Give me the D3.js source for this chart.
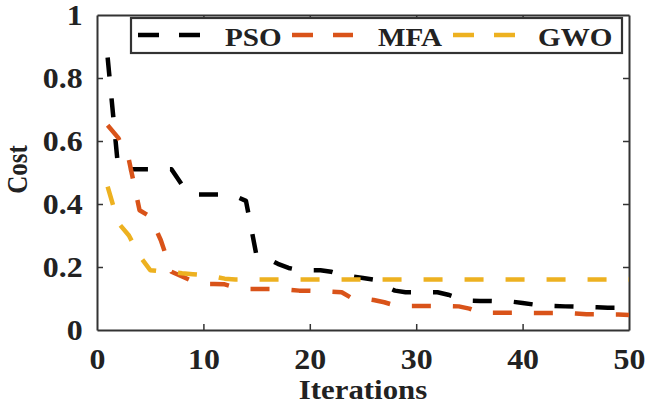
<!DOCTYPE html>
<html>
<head>
<meta charset="utf-8">
<script src="https://cdn.jsdelivr.net/npm/d3@7"></script>
<style>
  html, body { margin: 0; padding: 0; background: #fff; }
  svg { display: block; }
</style>
</head>
<body>
<svg id="chart" width="646" height="407"></svg>
<script>
// Convergence curves of three optimisers (cost vs. iteration)
const iterations = [1,2,3,4,5,6,7,8,9,10,11,12,13,14,15,16,17,18,19,20,
  21,22,23,24,25,26,27,28,29,30,31,32,33,34,35,36,37,38,39,40,
  41,42,43,44,45,46,47,48,49,50];

const pso = [0.865,0.51,0.51,0.51,0.51,0.51,0.51,0.46,0.43,0.43,
  0.43,0.43,0.425,0.41,0.235,0.228,0.21,0.197,0.19,0.19,
  0.19,0.185,0.175,0.17,0.165,0.16,0.14,0.125,0.12,0.12,
  0.12,0.12,0.112,0.10,0.093,0.092,0.092,0.091,0.09,0.086,
  0.081,0.077,0.076,0.075,0.074,0.073,0.072,0.071,0.071,0.07];

const mfa = [0.65,0.61,0.54,0.38,0.36,0.285,0.185,0.17,0.155,0.146,
  0.146,0.145,0.135,0.13,0.13,0.13,0.13,0.128,0.125,0.125,
  0.124,0.122,0.12,0.10,0.10,0.095,0.088,0.078,0.076,0.076,
  0.076,0.076,0.076,0.075,0.068,0.055,0.055,0.055,0.055,0.055,
  0.054,0.054,0.054,0.054,0.052,0.05,0.05,0.049,0.049,0.048];

const gwo = [0.455,0.34,0.30,0.235,0.19,0.186,0.184,0.18,0.177,0.174,
  0.17,0.163,0.16,0.16,0.16,0.16,0.16,0.16,0.16,0.16,
  0.16,0.16,0.16,0.16,0.16,0.16,0.16,0.16,0.16,0.16,
  0.16,0.16,0.16,0.16,0.16,0.16,0.16,0.16,0.16,0.16,
  0.16,0.16,0.16,0.16,0.16,0.16,0.16,0.16,0.16,0.16];

const seriesNames = ["PSO", "MFA", "GWO"];
const seriesColors = ["#000000", "#D95319", "#EDB120"];
const xTicks = [0, 10, 20, 30, 40, 50];
const yTicks = [0, 0.2, 0.4, 0.6, 0.8, 1];

const FONT = "Liberation Serif, Times New Roman, serif";
const svg = d3.select("#chart");
const W = 646, H = 407;
const m = { left: 97, right: W - 629, top: 15, bottom: H - 330 };

svg.append("rect").attr("width", W).attr("height", H).attr("fill", "#fff");

const x = d3.scaleLinear().domain([0, 50]).range([m.left, W - m.right]);
const y = d3.scaleLinear().domain([0, 1]).range([H - m.bottom, m.top]);

const axisColor = "#333";
const stretch = 1.1;

// Bottom axis with inward ticks
const gx = svg.append("g")
  .attr("transform", `translate(0,${H - m.bottom})`)
  .call(d3.axisBottom(x).tickValues(xTicks).tickFormat(d3.format("d"))
    .tickSizeInner(-6).tickSizeOuter(0).tickPadding(18));
// Left axis with inward ticks
const gy = svg.append("g")
  .attr("transform", `translate(${m.left},0)`)
  .call(d3.axisLeft(y).tickValues(yTicks).tickFormat(d => d === 0 || d === 1 ? d3.format("d")(d) : d3.format(".1f")(d))
    .tickSizeInner(-6).tickSizeOuter(0).tickPadding(13));
// Mirrored top and right axes (ticks only)
const gt = svg.append("g")
  .attr("transform", `translate(0,${m.top})`)
  .call(d3.axisTop(x).tickValues(xTicks).tickFormat("").tickSizeInner(-6).tickSizeOuter(0));
const gr = svg.append("g")
  .attr("transform", `translate(${W - m.right},0)`)
  .call(d3.axisRight(y).tickValues(yTicks).tickFormat("").tickSizeInner(-6).tickSizeOuter(0));

[gx, gy, gt, gr].forEach(g => {
  g.attr("font-family", FONT).attr("font-weight", "bold");
  g.select(".domain").attr("stroke", axisColor).attr("stroke-width", 2);
  g.selectAll(".tick line").attr("stroke", axisColor).attr("stroke-width", 1.5);
  g.selectAll(".tick text")
    .attr("font-family", FONT)
    .attr("font-weight", "bold")
    .attr("font-size", 29)
    .attr("fill", "#222")
    .attr("transform", `scale(${stretch},1)`);
});
// first/last tick lines sit on the frame; hide duplicates at the corners
gx.selectAll(".tick line").filter(d => d === 0 || d === 50).attr("opacity", 0);
gt.selectAll(".tick line").filter(d => d === 0 || d === 50).attr("opacity", 0);
gy.selectAll(".tick line").filter(d => d === 0 || d === 1).attr("opacity", 0);
gr.selectAll(".tick line").filter(d => d === 0 || d === 1).attr("opacity", 0);

// Curves
const line = d3.line()
  .x((d, i) => x(iterations[i]))
  .y(d => y(d));

[pso, mfa, gwo].forEach((vals, k) => {
  svg.append("path")
    .datum(vals)
    .attr("d", line)
    .attr("fill", "none")
    .attr("stroke", seriesColors[k])
    .attr("stroke-width", 4.5)
    .attr("stroke-dasharray", "19,22")
    .attr("stroke-linejoin", "round");
});

// Axis titles
svg.append("text")
  .attr("transform", `translate(${(x(0) + x(50)) / 2},399) scale(${stretch},1)`)
  .attr("text-anchor", "middle")
  .attr("font-family", FONT).attr("font-weight", "bold").attr("fill", "#222")
  .attr("font-size", 28)
  .text("Iterations");

svg.append("text")
  .attr("transform", `translate(27,${(y(0) + y(1)) / 2 - 3}) rotate(-90) scale(1,1.15)`)
  .attr("text-anchor", "middle")
  .attr("font-family", FONT).attr("font-weight", "bold").attr("fill", "#222")
  .attr("font-size", 25)
  .text("Cost");

// Legend
const legend = svg.append("g");
legend.append("rect")
  .attr("x", 131).attr("y", 18).attr("width", 491).attr("height", 35)
  .attr("fill", "#fff").attr("stroke", "#333").attr("stroke-width", 2.2);

const legendItems = [
  { x1: 138, x2: 200, tx: 225 },
  { x1: 292, x2: 353, tx: 378 },
  { x1: 453, x2: 523, tx: 538 }
];
legendItems.forEach((it, k) => {
  legend.append("line")
    .attr("x1", it.x1).attr("x2", it.x2).attr("y1", 35).attr("y2", 35)
    .attr("stroke", seriesColors[k]).attr("stroke-width", 4.5)
    .attr("stroke-dasharray", "21,20");
  legend.append("text")
    .attr("transform", `translate(${it.tx},46) scale(1.12,1)`)
    .attr("font-family", FONT).attr("font-weight", "bold").attr("fill", "#222")
    .attr("font-size", 26)
    .text(seriesNames[k]);
});
</script>
</body>
</html>
